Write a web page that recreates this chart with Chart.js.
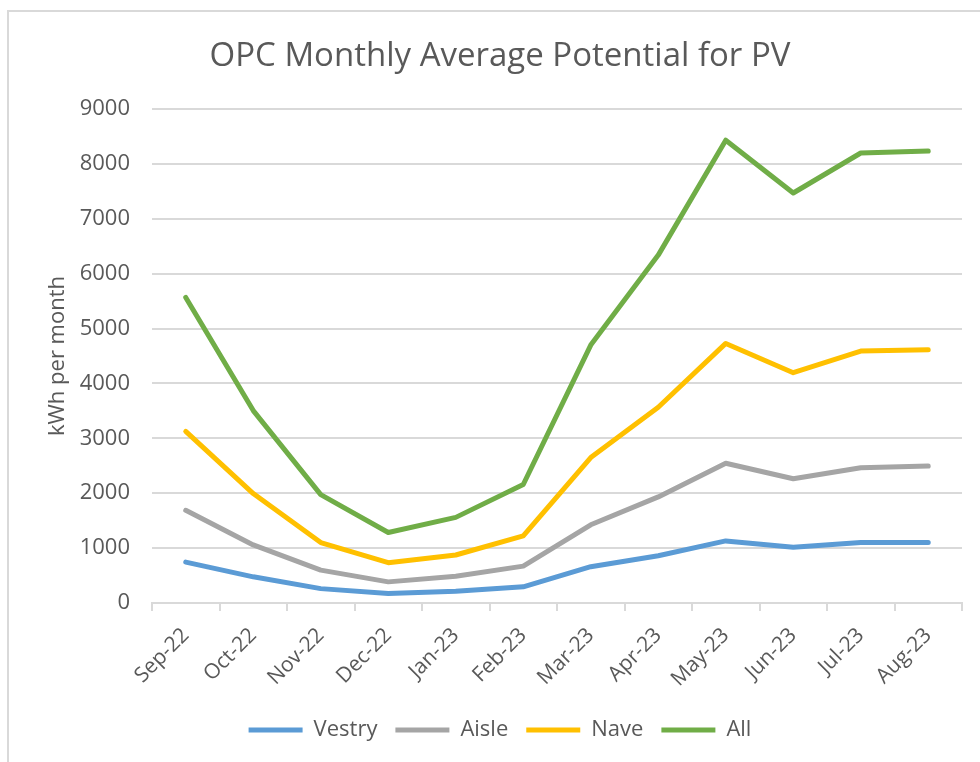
<!DOCTYPE html>
<html>
<head>
<meta charset="utf-8">
<script src="https://cdn.jsdelivr.net/npm/chart.js@4.4.1/dist/chart.umd.min.js"></script>
<style>
  html, body { margin: 0; padding: 0; background: #fff; }
  #wrap { position: relative; width: 980px; height: 762px; overflow: hidden; }
  #frame { position: absolute; left: 7px; top: 10px; width: 1000px; height: 800px; border: 2px solid #d9d9d9; box-sizing: border-box; }
  #chart { position: absolute; left: 0; top: 0; }
</style>
</head>
<body>
<div id="wrap">
  <div id="frame"></div>
  <canvas id="chart" width="980" height="762"></canvas>
</div>
<script>
// chart data
const months = ["Sep-22", "Oct-22", "Nov-22", "Dec-22", "Jan-23", "Feb-23", "Mar-23", "Apr-23", "May-23", "Jun-23", "Jul-23", "Aug-23"]
const vestry = [745, 477, 262, 171, 214, 294, 661, 862, 1131, 1015, 1101, 1101]
const aisle = [1689, 1058, 599, 385, 489, 672, 1425, 1933, 2545, 2263, 2465, 2496]
const nave = [3126, 1994, 1101, 734, 874, 1223, 2649, 3566, 4729, 4196, 4589, 4613]
const all = [5567, 3506, 1975, 1285, 1560, 2159, 4699, 6338, 8431, 7470, 8198, 8234]
const yTicks = [0, 9000, 1000] // min, max, step

const fontFamily = "'Open Sans', sans-serif"
const textColor = "#595959"
const gridColor = "#d9d9d9"

function series(label, data, color) {
  return {
    label: label,
    data: data,
    borderColor: color,
    backgroundColor: color,
    borderWidth: 5,
    borderCapStyle: "round",
    borderJoinStyle: "round",
    pointRadius: 0,
    tension: 0,
  }
}

const ctx = document.getElementById("chart")
new Chart(ctx, {
  type: "line",
  data: {
    labels: months,
    datasets: [
      series("Vestry", vestry, "#5b9bd5"),
      series("Aisle", aisle, "#a5a5a5"),
      series("Nave", nave, "#ffc000"),
      series("All", all, "#70ad47"),
    ],
  },
  options: {
    responsive: false,
    animation: false,
    layout: { padding: { left: 38, right: 18, top: 37, bottom: 11 } },
    plugins: {
      title: {
        display: true,
        text: "OPC Monthly Average Potential for PV",
        color: textColor,
        font: { family: fontFamily, size: 33, weight: "normal" },
        padding: { top: 0, bottom: 32.4 },
      },
      legend: {
        position: "bottom",
        labels: {
          color: textColor,
          font: { family: fontFamily, size: 22 },
          usePointStyle: true,
          pointStyle: "line",
          pointStyleWidth: 54,
          boxHeight: 5,
          padding: 18,
        },
      },
      tooltip: { enabled: false },
    },
    scales: {
      x: {
        offset: true,
        grid: {
          offset: true,
          drawOnChartArea: false,
          drawTicks: true,
          tickLength: 8,
          color: gridColor,
          lineWidth: 2,
        },
        border: { color: gridColor, width: 2 },
        ticks: {
          color: textColor,
          font: { family: fontFamily, size: 21 },
          minRotation: 45,
          maxRotation: 45,
          padding: 12,
        },
        afterFit: (scale) => { scale.height = 98 },
      },
      y: {
        min: yTicks[0],
        max: yTicks[1],
        grid: { color: gridColor, lineWidth: 2, drawTicks: false },
        border: { display: false },
        ticks: {
          stepSize: yTicks[2],
          color: textColor,
          font: { family: fontFamily, size: 22 },
          padding: 22,
          callback: (v) => String(v),
        },
        title: {
          display: true,
          text: "kWh per month",
          color: textColor,
          font: { family: fontFamily, size: 22 },
          padding: { top: 7, bottom: 0 },
        },
        afterFit: (scale) => { scale.width = 114 },
      },
    },
  },
})
</script>
</body>
</html>
